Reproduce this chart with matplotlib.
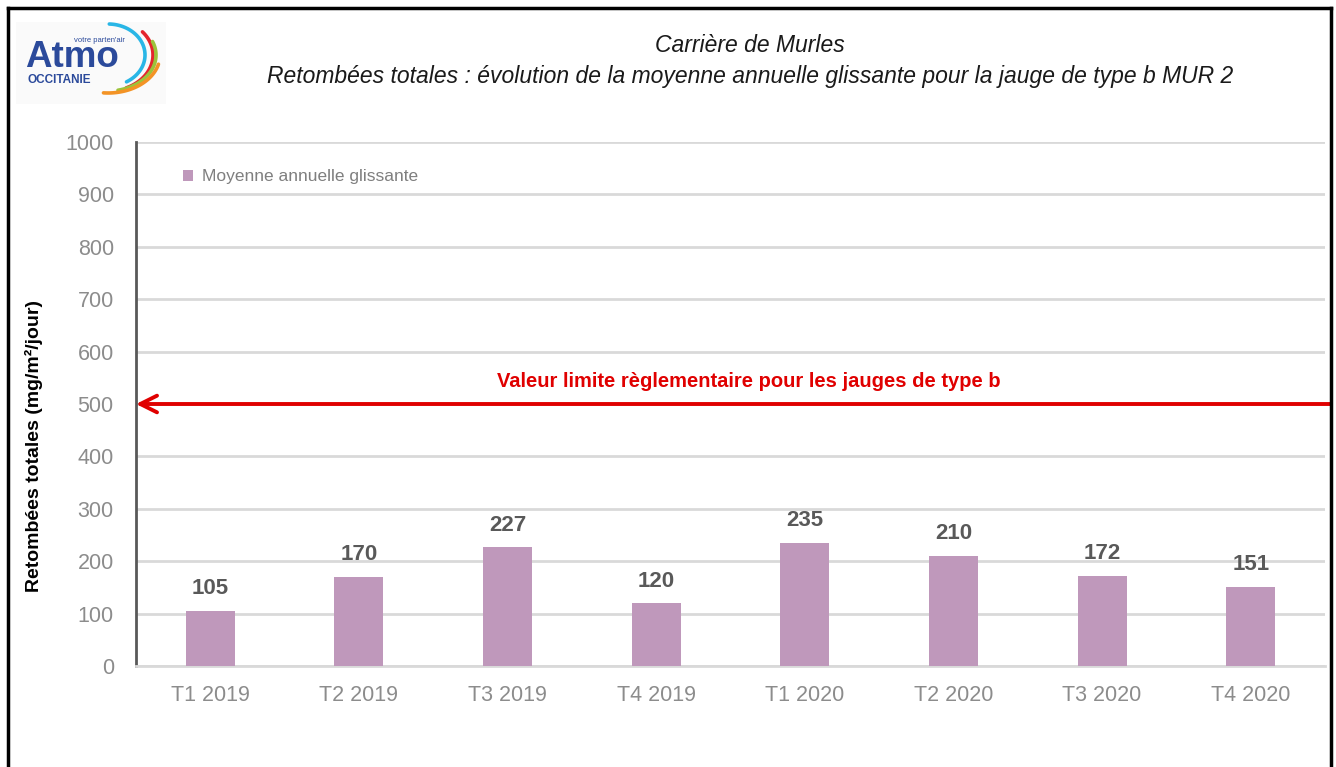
import matplotlib
matplotlib.use("Agg")
import matplotlib.pyplot as plt
import numpy as np
from matplotlib.lines import Line2D

# data
trimestres = ["T1 2019", "T2 2019", "T3 2019", "T4 2019",
              "T1 2020", "T2 2020", "T3 2020", "T4 2020"]
moyenne = [105, 170, 227, 120, 235, 210, 172, 151]
valeur_limite = 500

plt.rcParams['font.family'] = ['Liberation Sans Narrow', 'Liberation Sans', 'DejaVu Sans']

W, H = 1336, 767
fig = plt.figure(figsize=(W / 100, H / 100), dpi=100)
ax = fig.add_axes([136 / W, 1 - 666 / H, (1325 - 136) / W, (666 - 142) / H])

x = list(range(len(trimestres)))
ax.bar(x, moyenne, width=0.33, color="#bf98bb", label="Moyenne annuelle glissante", zorder=3)
for xi, v in zip(x, moyenne):
    ax.text(xi, v + 22, str(v), ha="center", va="bottom", fontsize=16,
            fontweight="bold", color="#595959", zorder=4)

ax.set_xlim(-0.5, len(trimestres) - 0.5)
ax.set_ylim(0, 1000)
ax.set_yticks(range(0, 1001, 100))
ax.set_xticks(x)
ax.set_xticklabels(trimestres)
ax.tick_params(axis="both", length=0, labelsize=15.5, colors="#8c8c8c")
ax.tick_params(axis="x", pad=14)
ax.tick_params(axis="y", pad=16)
ax.grid(axis="y", color="#d9d9d9", linewidth=2, zorder=0)
ax.set_axisbelow(True)
for s in ["top", "right"]:
    ax.spines[s].set_visible(False)
ax.spines["left"].set_color("#595959")
ax.spines["left"].set_linewidth(2)
ax.spines["bottom"].set_color("#d9d9d9")
ax.spines["bottom"].set_linewidth(2)

ax.set_ylabel("Retombées totales (mg/m²/jour)", fontsize=14, fontweight="bold",
              color="black")
ax.yaxis.set_label_coords(-(136 - 43) / 1189, 0.42)

# limit value arrow
ax.annotate("", xy=(-0.5, valeur_limite), xycoords="data",
            xytext=(1331 / W, valeur_limite), textcoords=("figure fraction", "data"),
            arrowprops=dict(arrowstyle="->", color="#e00000", lw=2.8,
                            mutation_scale=30, shrinkA=0, shrinkB=0),
            annotation_clip=False)
ax.text(3.62, 525, "Valeur limite règlementaire pour les jauges de type b",
        ha="center", va="bottom", fontsize=14.5, fontweight="bold", color="#e00000")

leg = ax.legend(loc="upper left", bbox_to_anchor=(0.026, 0.978), frameon=False,
                fontsize=12.5, handlelength=0.6, handleheight=0.6, handletextpad=0.5,
                labelcolor="#7f7f7f")

# titles
fig.text(750 / W, 1 - 45 / H, "Carrière de Murles", ha="center", va="center",
         fontsize=16.5, style="italic", color="#1a1a1a")
fig.text(750 / W, 1 - 77 / H,
         "Retombées totales : évolution de la moyenne annuelle glissante pour la jauge de type b MUR 2",
         ha="center", va="center", fontsize=16.5, style="italic", color="#1a1a1a")

# logo (axes in pixel units, y pointing down)
logo_ax = fig.add_axes([16 / W, 1 - 104 / H, 150 / W, 82 / H])
logo_ax.set_xlim(16, 166)
logo_ax.set_ylim(104, 22)
logo_ax.set_facecolor("#fafafa")
logo_ax.set_xticks([])
logo_ax.set_yticks([])
for s in logo_ax.spines.values():
    s.set_visible(False)
cx, cy = 108, 55
for a, b, c, t1, t2 in [(37, 31, "#29b6e6", -60, 88), (45, 36, "#e4252d", -66, 40),
                        (48, 36, "#9cc33a", -78, 22), (52, 38, "#f39325", -95, -14)]:
    t = np.radians(np.linspace(t1, t2, 60))
    logo_ax.plot(cx + a * np.cos(t), cy - b * np.sin(t), color=c, lw=2.6,
                 solid_capstyle="round")
fig.text(25 / W, 1 - 67 / H, "Atmo", fontsize=26.5, fontweight="bold",
         color="#2b4a9b", va="baseline", family=["Liberation Sans", "DejaVu Sans"])
fig.text(28 / W, 1 - 74 / H, "OCCITANIE", fontsize=8.5, fontweight="bold",
         color="#2b4a9b", va="top", family=["Liberation Sans", "DejaVu Sans"])
fig.text(125 / W, 1 - 42 / H, "votre parten'air", fontsize=5.5, color="#2b4a9b",
         ha="right", va="baseline", family=["Liberation Sans", "DejaVu Sans"])

# frame around the picture (no bottom edge)
for xs, ys in [([8 / W, 8 / W], [0, 1 - 8 / H]),
               ([8 / W, 1331 / W], [1 - 8 / H, 1 - 8 / H]),
               ([1331 / W, 1331 / W], [0, 1 - 8 / H])]:
    fig.lines.append(Line2D(xs, ys, transform=fig.transFigure, color="black", lw=2.5))

fig.savefig("out.png", dpi=100)
